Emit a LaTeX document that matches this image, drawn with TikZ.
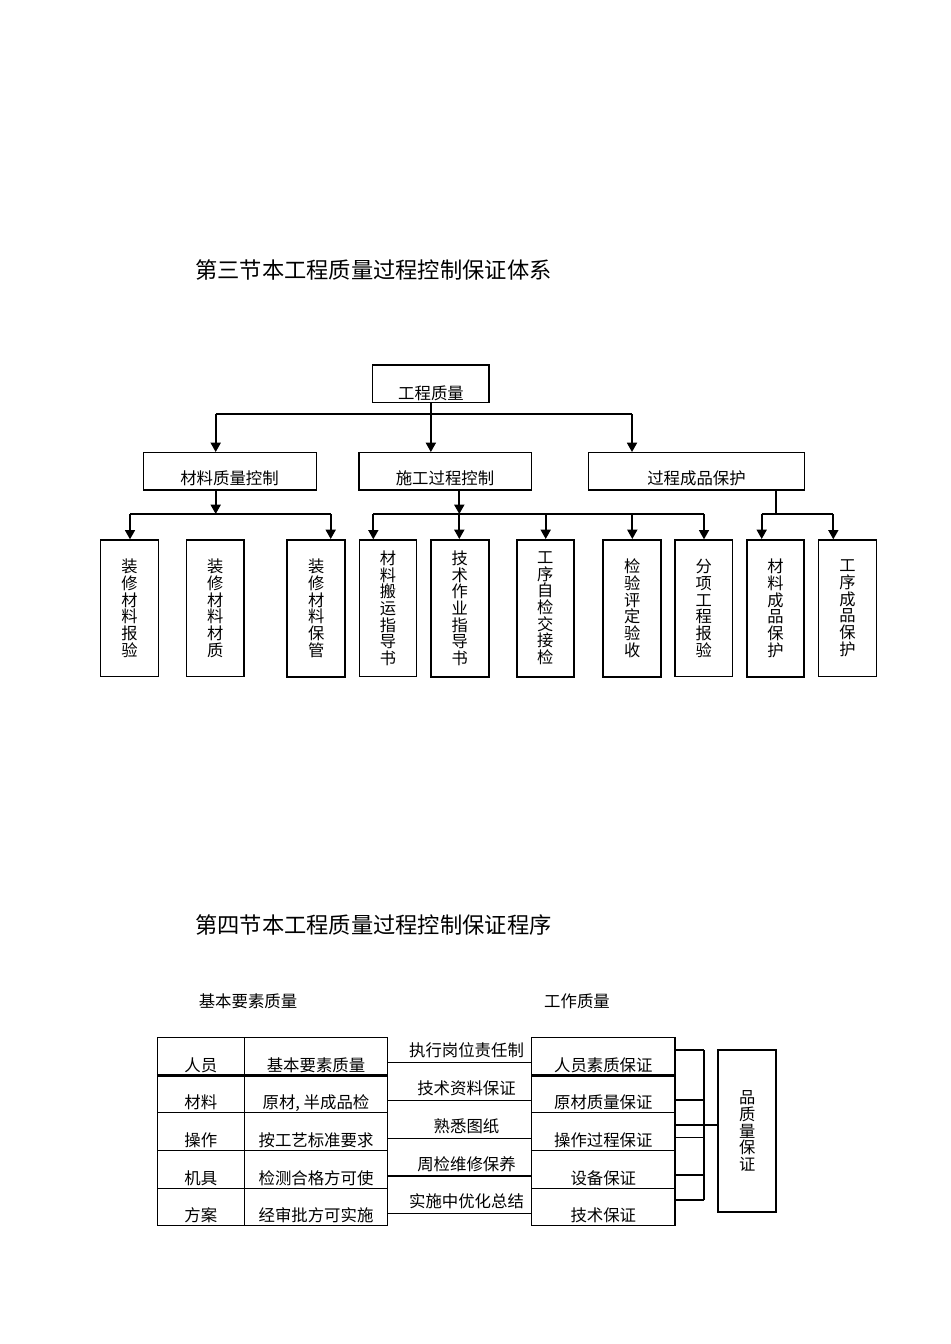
\documentclass[tikz,border=0pt]{standalone}
\usepackage{fontspec}
\newfontfamily\cjk{Noto Sans CJK SC}
\usetikzlibrary{arrows.meta,fit}
\begin{document}
\begin{tikzpicture}[x=0.75pt,y=-0.75pt,
  every node/.style={font=\cjk},
  box/.style={draw, line width=1pt, inner sep=0pt},
  thickbox/.style={box, line width=1.5pt},
  conn/.style={line width=1.3pt},
  arr/.style={conn, -{Triangle[width=7.5pt,length=7pt]}},
  txt/.style={font=\cjk\fontsize{12.3}{14}\selectfont, inner sep=0pt},
  vtxt/.style={font=\cjk\fontsize{12.2}{12.5}\selectfont, align=center, inner sep=0pt},
  titletxt/.style={font=\cjk\fontsize{16.7}{20}\selectfont, inner sep=0pt, anchor=west},
  cell/.style={draw, line width=0.8pt, inner sep=0pt},
  thin/.style={line width=0.8pt},
  sep/.style={line width=1.6pt}
]
\useasboundingbox (0,0) rectangle (950,1344);

% ---------- Section 3 ----------
\node[titletxt] (t3) at (195,270) {第三节本工程质量过程控制保证体系};

\node[box, fit={(372.7,365) (489,402.7)}] (top) {};
\node[txt] (top-t) at (431,393) {工程质量};

\node[box, fit={(143.3,452.7) (316.3,490)}] (l2a) {};
\node[txt] at (229.5,478) {材料质量控制};
\node[box, fit={(359,452.7) (531.7,490)}] (l2b) {};
\node[txt] at (445,478) {施工过程控制};
\node[box, fit={(588.7,452.7) (804.3,490)}] (l2c) {};
\node[txt] at (696.5,478) {过程成品保护};

% level 3 boxes
\foreach \n/\xa/\xb/\st/\t in {
  1/100.7/158.3/box/{装\\修\\材\\料\\报\\验},
  2/186.7/244/box/{装\\修\\材\\料\\材\\质},
  3/287.3/345/thickbox/{装\\修\\材\\料\\保\\管},
  4/359.3/416.7/box/{材\\料\\搬\\运\\指\\导\\书},
  5/430.7/488.7/thickbox/{技\\术\\作\\业\\指\\导\\书},
  6/516.7/574/thickbox/{工\\序\\自\\检\\交\\接\\检},
  7/603.3/661/thickbox/{检\\验\\评\\定\\验\\收},
  8/675/732.7/box/{分\\项\\工\\程\\报\\验},
  9/746.7/804.3/thickbox/{材\\料\\成\\品\\保\\护},
  10/818.3/876.7/box/{工\\序\\成\\品\\保\\护}} {
  \node[\st, fit={(\xa,540) (\xb,676.7)}] (c\n) {};
  \node[vtxt] at (c\n.center) {\t};
}

% connectors level 1 -> 2
\coordinate (b1) at (215.7,414.3);
\coordinate (b3) at (632,414.3);
\draw[conn] (b1) -- (b3);
\draw[arr] (top.south) -- (top.south |- l2b.north);
\draw[arr] (b1) -- (b1 |- l2a.north);
\draw[arr] (b3) -- (b3 |- l2c.north);

% connectors under 材料质量控制
\coordinate (ja) at (215.7,514);
\coordinate (ja1) at (130,514);
\coordinate (ja3) at (330.7,514);
\draw[arr] (ja |- l2a.south) -- (ja);
\draw[conn] (ja1) -- (ja3);
\draw[arr] (ja1) -- (ja1 |- c1.north);
\draw[arr] (ja3) -- (ja3 |- c3.north);

% connectors under 施工过程控制
\coordinate (jb) at (459.3,514);
\coordinate (jb4) at (373.3,514);
\coordinate (jb6) at (545.7,514);
\coordinate (jb7) at (632.3,514);
\coordinate (jb8) at (704,514);
\draw[arr] (jb |- l2b.south) -- (jb);
\draw[conn] (jb4) -- (jb8);
\draw[arr] (jb4) -- (jb4 |- c4.north);
\draw[arr] (jb) -- (jb |- c5.north);
\draw[arr] (jb6) -- (jb6 |- c6.north);
\draw[arr] (jb7) -- (jb7 |- c7.north);
\draw[arr] (jb8) -- (jb8 |- c8.north);

% connectors under 过程成品保护
\coordinate (jc) at (775.7,514);
\coordinate (jc9) at (761.7,514);
\coordinate (jc10) at (833.3,514);
\draw[conn] (jc |- l2c.south) -- (jc);
\draw[conn] (jc9) -- (jc10);
\draw[arr] (jc9) -- (jc9 |- c9.north);
\draw[arr] (jc10) -- (jc10 |- c10.north);

% ---------- Section 4 ----------
\node[titletxt] (t4) at (195,925) {第四节本工程质量过程控制保证程序};

\node[txt] (h1) at (248,1001.5) {基本要素质量};
\node[txt] (h2) at (577,1001.5) {工作质量};

\foreach \i/\ya/\yb/\ta/\tb/\tc/\td in {
  1/1037.3/1075/人员/基本要素质量/执行岗位责任制/人员素质保证,
  2/1075/1112.7/材料/{原材, 半成品检}/技术资料保证/原材质量保证,
  3/1112.7/1150.7/操作/按工艺标准要求/熟悉图纸/操作过程保证,
  4/1150.7/1188.3/机具/检测合格方可使/周检维修保养/设备保证,
  5/1188.3/1225.7/方案/经审批方可实施/实施中优化总结/技术保证} {
  \node[cell, fit={(157.3,\ya) (244.3,\yb)}] (a\i) {};
  \node[cell, fit={(244.3,\ya) (387.7,\yb)}] (b\i) {};
  \node[cell, fit={(531.7,\ya) (675,\yb)}] (d\i) {};
  \node[txt] at (200.8,{\yb-10}) {\ta};
  \node[txt] at (316,{\yb-10}) {\tb};
  \node[txt] at (466.5,{\yb-24.3}) {\tc};
  \node[txt] at (603.3,{\yb-10}) {\td};
  \coordinate (m\i) at (387.7,{\yb-12.3});
  \draw[thin] (m\i) -- (m\i -| d\i.west);
}
% heavier separator under the first row
\draw[sep] (a1.south west) -- (b1.south east);
\draw[sep] (d1.south west) -- (d1.south east);

% 品质量保证 box and connectors
\node[thickbox, fit={(718.3,1050) (776,1212.3)}] (q) {};
\node[vtxt] at (q.center) {品\\质\\量\\保\\证};

\coordinate (k1) at (704,1050);
\coordinate (k2) at (704,1100);
\coordinate (k3) at (704,1125);
\coordinate (k4) at (704,1137.3);
\coordinate (k5) at (704,1175);
\coordinate (k6) at (704,1200);
\draw[thin] (k1) -- (k6);
\draw[thin] (d1.east |- k1) -- (k1);
\draw[thin] (d2.east |- k2) -- (k2);
\draw[thin] (d3.east |- k3) -- (q.west |- k3);
\draw[thin] (d3.east |- k4) -- (k4);
\draw[thin] (d4.east |- k5) -- (k5);
\draw[thin] (d5.east |- k6) -- (k6);
\end{tikzpicture}
\end{document}
